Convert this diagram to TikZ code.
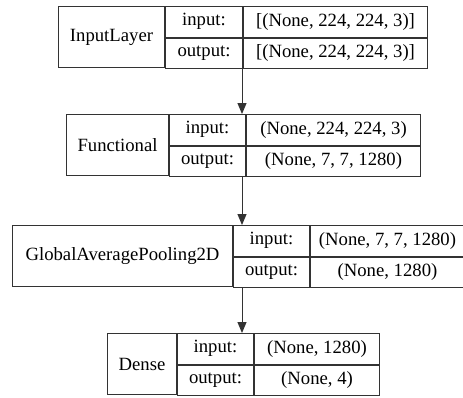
\documentclass[tikz,border=0pt]{standalone}
\usepackage{fontspec}
\setmainfont{Liberation Serif}
\newfontfamily\graphfont{Liberation Serif}
\usepackage{tikz}
\usetikzlibrary{positioning, calc}
\usetikzlibrary{arrows.meta}
\tikzstyle{cellbox}=[rectangle,draw=black!80,line width=1pt,fill=white,
inner sep=1pt,font=\graphfont\fontsize{18.7}{22}\selectfont]
\tikzstyle{namebox}=[cellbox,minimum height=61pt,anchor=north west]
\tikzstyle{portbox}=[cellbox,minimum height=30.5pt,anchor=north west]
\tikzstyle{edgepath} = [-{Triangle[length=11pt,width=9pt]},draw=black!80,
line width=1pt]

\begin{document}
\begin{tikzpicture}[x=1pt,y=-1pt]
    \useasboundingbox (0,0) rectangle (463,397);
    \coordinate (axis) at (242,0);

    % InputLayer
    \node[namebox, minimum width=106pt] (l1) at (58,6) {InputLayer};
    \node[portbox, minimum width=77pt] (l1in) at (l1.north east) {input:};
    \node[portbox, minimum width=77pt, below=0pt of l1in.south west, anchor=north west] (l1out) {output:};
    \node[portbox, minimum width=184pt] (l1inv) at (l1in.north east) {[(None, 224, 224, 3)]};
    \node[portbox, minimum width=184pt] (l1outv) at (l1out.north east) {[(None, 224, 224, 3)]};

    % Functional
    \node[namebox, minimum width=102pt] (l2) at (66,114) {Functional};
    \node[portbox, minimum width=76pt] (l2in) at (l2.north east) {input:};
    \node[portbox, minimum width=76pt, below=0pt of l2in.south west, anchor=north west] (l2out) {output:};
    \node[portbox, minimum width=174pt] (l2inv) at (l2in.north east) {(None, 224, 224, 3)};
    \node[portbox, minimum width=174pt] (l2outv) at (l2out.north east) {(None, 7, 7, 1280)};

    % GlobalAveragePooling2D
    \node[namebox, minimum width=220pt] (l3) at (12,225) {GlobalAveragePooling2D};
    \node[portbox, minimum width=76pt] (l3in) at (l3.north east) {input:};
    \node[portbox, minimum width=76pt, below=0pt of l3in.south west, anchor=north west] (l3out) {output:};
    \node[portbox, minimum width=154pt] (l3inv) at (l3in.north east) {(None, 7, 7, 1280)};
    \node[portbox, minimum width=154pt] (l3outv) at (l3out.north east) {(None, 1280)};

    % Dense
    \node[namebox, minimum width=69pt] (l4) at (107,333) {Dense};
    \node[portbox, minimum width=76pt] (l4in) at (l4.north east) {input:};
    \node[portbox, minimum width=76pt, below=0pt of l4in.south west, anchor=north west] (l4out) {output:};
    \node[portbox, minimum width=125pt] (l4inv) at (l4in.north east) {(None, 1280)};
    \node[portbox, minimum width=125pt] (l4outv) at (l4out.north east) {(None, 4)};

    \draw[edgepath] (l1.south -| axis) -- (l2.north -| axis);
    \draw[edgepath] (l2.south -| axis) -- (l3.north -| axis);
    \draw[edgepath] (l3.south -| axis) -- (l4.north -| axis);
\end{tikzpicture}
\end{document}
